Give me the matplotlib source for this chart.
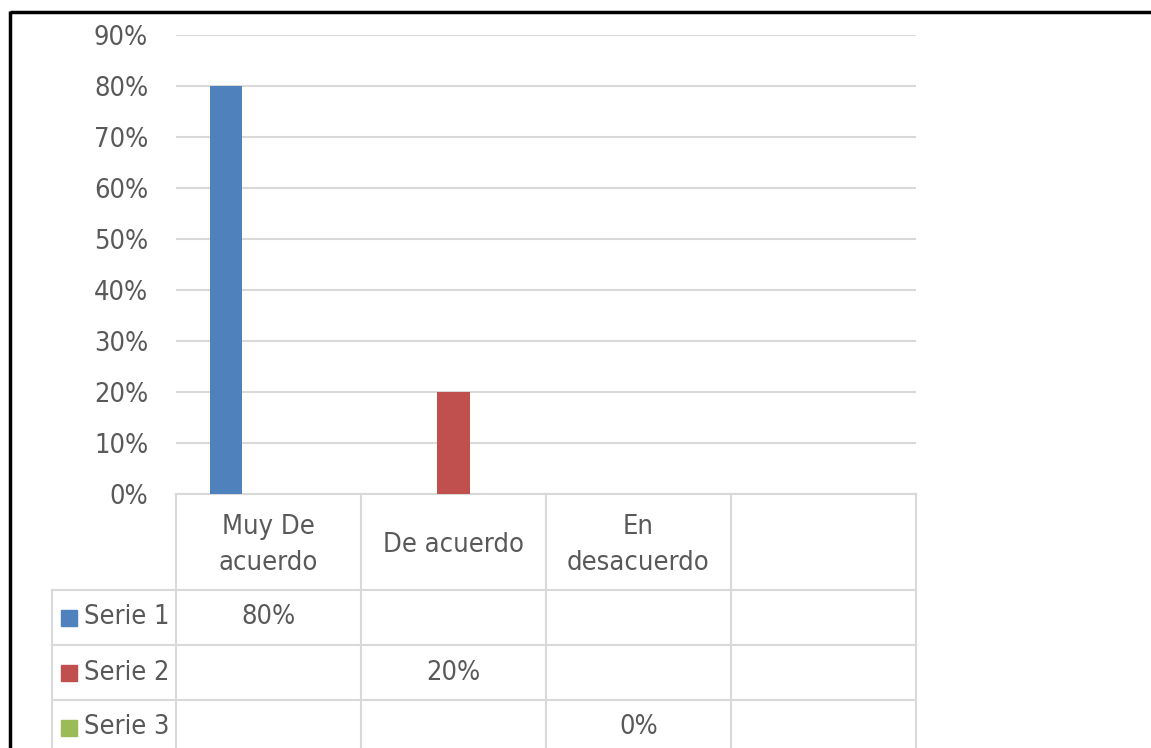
import matplotlib.pyplot as plt
import numpy as np

categorias = ['Muy De\nacuerdo', 'De acuerdo', 'En\ndesacuerdo', '']
series = ['Serie 1', 'Serie 2', 'Serie 3']
valores = [[0.80, None, None, None],
           [None, 0.20, None, None],
           [None, None, 0.00, None]]
colores = ['#4F81BD', '#C0504D', '#9BBB59']
yticks = [0, 0.1, 0.2, 0.3, 0.4, 0.5, 0.6, 0.7, 0.8, 0.9]

plt.rcParams['font.family'] = ['Liberation Sans Narrow', 'DejaVu Sans']
plt.rcParams['font.stretch'] = 'condensed'
gris = '#595959'
linea = '#D9D9D9'
fs = 19.5

W, H = 1151, 748
fig = plt.figure(figsize=(W / 100, H / 100), dpi=100)

# capa de fondo en pixeles (marco + tabla)
bg = fig.add_axes([0, 0, 1, 1])
bg.set_xlim(0, W)
bg.set_ylim(H, 0)
bg.axis('off')

# grafico principal
x0, x1, yb, yt = 176, 916, 494, 35
ax = fig.add_axes([x0 / W, (H - yb) / H, (x1 - x0) / W, (yb - yt) / H])
n = len(categorias)
ax.set_xlim(-0.5, n - 0.5)
ax.set_ylim(0, 0.9)
ax.set_yticks(yticks)
ax.set_yticklabels([f'{int(round(t * 100))}%' for t in yticks])
ax.tick_params(axis='y', length=0, labelsize=fs, colors=gris, pad=20)
ax.tick_params(axis='x', length=0, labelbottom=False)
ax.grid(axis='y', color=linea, linewidth=1.5)
ax.set_axisbelow(True)
for s in ax.spines.values():
    s.set_visible(False)
ax.patch.set_alpha(0)

ancho = 0.173
paso = 0.23
for i, (nombre, vals) in enumerate(zip(series, valores)):
    xs = [j + (i - 1) * paso for j, v in enumerate(vals) if v is not None]
    ys = [v for v in vals if v is not None]
    ax.bar(xs, ys, width=ancho, color=colores[i], zorder=3)

# tabla de datos
cols = [x0 + (x1 - x0) * k / n for k in range(n + 1)]
filas = [yb, 590, 645, 700, H + 5]
xl = 52
bg.plot([x0, x1], [yb, yb], color=linea, lw=1.5)
for k, c in enumerate(cols):
    bg.plot([c, c], [yb, H + 5], color=linea, lw=1.5)
bg.plot([xl, xl], [filas[1], H + 5], color=linea, lw=1.5)
for f in filas[1:4]:
    bg.plot([xl, x1], [f, f], color=linea, lw=1.5)

for j, cat in enumerate(categorias):
    cx = (cols[j] + cols[j + 1]) / 2
    bg.text(cx, 545, cat, ha='center', va='center',
            fontsize=fs, color=gris, linespacing=1.5)

for i, nombre in enumerate(series):
    cy = (filas[i + 1] + filas[i + 2]) / 2 if i < 2 else (filas[3] + 755) / 2
    bg.plot([69], [cy], marker='s', markersize=11.5, color=colores[i],
            linestyle='none')
    bg.text(84, cy, nombre, ha='left', va='center', fontsize=fs, color=gris)
    for j, v in enumerate(valores[i]):
        if v is not None:
            cx = (cols[j] + cols[j + 1]) / 2
            bg.text(cx, cy, f'{int(round(v * 100))}%', ha='center',
                    va='center', fontsize=fs, color=gris)

# marco negro
bg.plot([10, W + 5], [12, 12], color='black', lw=2.5, solid_capstyle='butt')
bg.plot([10, 10], [11, H + 5], color='black', lw=2.5, solid_capstyle='butt')

fig.savefig('out.png', dpi=100)
